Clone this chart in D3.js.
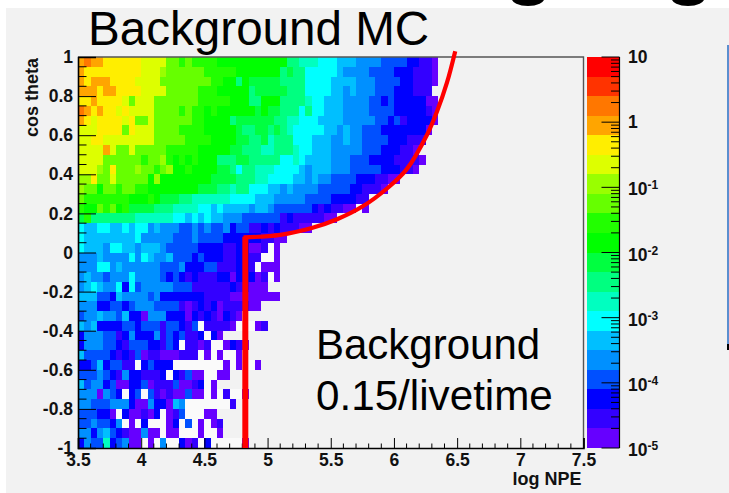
<!DOCTYPE html>
<html><head><meta charset="utf-8">
<style>html,body{margin:0;padding:0;background:#fff}svg{display:block}text{font-family:"Liberation Sans",Arial,sans-serif}</style>
<script src="https://cdn.jsdelivr.net/npm/d3@7"></script></head><body>
<div id="chart"></div>
<script>
// Bin colour level per cell, top row (cos theta = 1) first. Column 0 starts at log NPE 3.5.
// 0-9,a-j = colour band of the palette, '.' = empty bin.
const levelRows = [
"ghggffffffeeeeccbcbbbbaaaaaaaaaaa887776665554444333322110",
"gfffffffffeeedccccccbbbbbaaaaaaa8988666665444433332221110",
"gfgggffffeeeeccccccccbbaa8a999998888666655554443333221110",
"gggfggffffeeeecccccbbbaaaaa89999988866665545444333222111",
"ffgffffeceeecccccccbbbbbaaa88aaa8888766555444433232222200",
"hgfgffefeeeeccccbcbbabaaaaaa9a998886866555444433332222210",
"gfeffffefcceccccccbbaaaa899999988776665555444443323122220",
"eeeffffcfeeeccccbbbbaaaaa9889989876666655454433322222220",
"eeffeeeeeeeecccccbbbbaaaa998897888666555445443333222111",
"eeeegeccecccccbbbbbaaaaa998887788876655544444333222110",
"eeeeccccccbccdbababaaa888998888866765555444333222211110",
"eeedcfcccdccbcdaabaaaa99868877766665455544433333222110",
"ddfccecccccadaaaaaaaa999988877666655454433332221100",
"dccaccbccbbaaaaaaaa999887886665545444433333221110",
"cbbbbbbbaaaba999887777776666555444443333222211",
"baacbcab999988877776656555545543333332121100.0",
"9b888888877777766565655444333333121111100",
"6556655656645444334343342331121211100",
"655555555644444333433332222221100",
"655546655455543333322221122001.0",
"44454444646544533323222112211..0",
"4446645444444333422233111221.000",
"454434446444432321211122022201.0",
"456544626344444333111111211000",
"55533254444342222222111100000000",
"44422332344433331012120111100",
"34454435220444222021210210",
"5452222332333133213.11110...01",
"24443312422241323112.20",
"2444332133322132.1101..0210",
"5333321213011000111.0.0..0",
"223523311.23222........0.0..0",
"33343214221112.21300..00",
"53442300223011130012.0",
"4440432.23.310100300.0.1..0",
"44333444200422054.......1",
"333220.200102.013...00",
"3343324.0.2...02.3.0.01",
"4424532100400.00...0..0",
"2433723400.0.4..201.2.....0"
];

const palette = ["#6600ff","#3300ff","#0000ff","#0050ff","#0090ff","#00bfff","#00ffff","#00ffc0","#00ff80","#00ff40",
                 "#00ff00","#22ff00","#66ff00","#99ff00","#ddff00","#ffee00","#ffa500","#ff7700","#ff3300","#ff0000"];
const levelCodes = "0123456789abcdefghij";

const xTickValues = [3.5,4,4.5,5,5.5,6,6.5,7,7.5];
const yTickValues = [-1,-0.8,-0.6,-0.4,-0.2,0,0.2,0.4,0.6,0.8,1];
const colourDecades = [-5,-4,-3,-2,-1,0,1];

// Red selection boundary (log NPE, cos theta)
const boundaryVertical = [[4.824,-1],[4.824,0.08]];
const boundaryCurve = [[4.81,0.077],[5.1,0.09],[5.35,0.125],[5.55,0.17],[5.75,0.235],[5.95,0.33],[6.1,0.425],[6.26,0.6],[6.34,0.72],[6.42,0.87],[6.485,1.03]];

const W=729,H=493;
const svg=d3.select("#chart").append("svg").attr("width",W).attr("height",H);
svg.append("rect").attr("x",6).attr("y",8).attr("width",W-6).attr("height",H-8).attr("fill","#f2f2f2");

const left=78,right=583.5,top_=57,bottom=448;
const x=d3.scaleLinear().domain([3.5,7.5]).range([left,right]);
const y=d3.scaleLinear().domain([-1,1]).range([bottom,top_]);
const xBin=0.05,yBin=0.05;

const cbLeft=587,cbRight=619.5;
const cbScale=d3.scaleLog().domain([1e-5,10]).range([bottom,top_]);
const levelValue=i=>Math.pow(10,-5+0.3*(i+0.5));
const colour=d3.scaleQuantize().domain([-5,1]).range(palette);

// cells
const cells=[];
levelRows.forEach((row,r)=>{[...row].forEach((ch,c)=>{
  const l=levelCodes.indexOf(ch);
  cells.push({x0:3.5+c*xBin,y1:1-r*yBin,v:l>=0?levelValue(l):null});
});});
svg.append("g").attr("shape-rendering","crispEdges").selectAll("rect").data(cells).join("rect")
  .attr("x",d=>x(d.x0)).attr("y",d=>y(d.y1))
  .attr("width",d=>x(d.x0+xBin)-x(d.x0)).attr("height",d=>y(d.y1-yBin)-y(d.y1))
  .attr("fill",d=>d.v===null?"#fafafa":colour(Math.log10(d.v)));

// frame
svg.append("path").attr("d",`M${left},${top_}H${right}V${bottom}`).attr("fill","none").attr("stroke","#555").attr("stroke-width",1.4);

// axes
const bold=17.5;
const plain=d=>String(d);
const xAxis=d3.axisBottom(x).tickValues(xTickValues).tickSize(-10).tickPadding(5.5).tickFormat(plain);
const gx=svg.append("g").attr("transform",`translate(0,${bottom})`).call(xAxis);
const yAxis=d3.axisLeft(y).tickValues(yTickValues).tickSize(-18).tickPadding(5).tickFormat(plain);
const gy=svg.append("g").attr("transform",`translate(${left},0)`).call(yAxis);
[gx,gy].forEach(g=>{g.selectAll("text").attr("font-size",bold).attr("font-weight","bold").attr("fill","#111").style("font-family",'"Liberation Sans",Arial,sans-serif');
  g.selectAll("line").attr("stroke","#000");g.select(".domain").attr("stroke","#000").attr("stroke-width",1.6);});
// minor ticks
svg.append("g").selectAll("line").data(d3.range(0,41).map(i=>3.5+i*0.1).filter(v=>Math.abs((v-3.5)/0.5-Math.round((v-3.5)/0.5))>1e-6)).join("line")
  .attr("x1",d=>x(d)).attr("x2",d=>x(d)).attr("y1",bottom).attr("y2",bottom-4.5).attr("stroke","#000");
svg.append("g").selectAll("line").data(d3.range(0,41).map(i=>-1+i*0.05).filter(v=>Math.abs(v/0.2-Math.round(v/0.2))>1e-6)).join("line")
  .attr("x1",left).attr("x2",left+8.5).attr("y1",d=>y(d)).attr("y2",d=>y(d)).attr("stroke","#000");

// axis titles
svg.append("text").attr("x",581.5).attr("y",485).attr("text-anchor","end").attr("font-size",18).attr("font-weight","bold").attr("fill","#111").text("log NPE");
svg.append("text").attr("transform",`translate(38,97.5) rotate(-90)`).attr("text-anchor","middle").attr("font-size",18).attr("font-weight","bold").attr("fill","#111").text("cos theta");

// colour bar
svg.append("g").attr("shape-rendering","crispEdges").selectAll("rect").data(palette).join("rect")
  .attr("x",cbLeft).attr("width",cbRight-cbLeft)
  .attr("y",(d,i)=>cbScale(Math.pow(10,-5+0.3*(i+1))))
  .attr("height",(d,i)=>cbScale(Math.pow(10,-5+0.3*i))-cbScale(Math.pow(10,-5+0.3*(i+1))))
  .attr("fill",d=>d);
svg.append("line").attr("x1",cbRight).attr("x2",cbRight).attr("y1",top_).attr("y2",bottom).attr("stroke","#000").attr("stroke-width",1.2);
const minor=[];colourDecades.slice(0,-1).forEach(e=>{for(let m=2;m<=9;m++)minor.push(m*Math.pow(10,e));});
svg.append("g").selectAll("line").data(minor).join("line").attr("x1",cbRight).attr("x2",cbRight-8.5).attr("y1",d=>cbScale(d)).attr("y2",d=>cbScale(d)).attr("stroke","#000");
svg.append("g").selectAll("line").data(colourDecades).join("line").attr("x1",cbRight).attr("x2",cbRight-18).attr("y1",d=>cbScale(Math.pow(10,d))).attr("y2",d=>cbScale(Math.pow(10,d))).attr("stroke","#000");
const cbLab=svg.append("g").selectAll("text").data(colourDecades).join("text")
  .attr("x",628).attr("y",d=>cbScale(Math.pow(10,d))+(d<0?8:6)).attr("font-size",bold).attr("font-weight","bold").attr("fill","#111");
cbLab.each(function(d){const t=d3.select(this);
  if(d===0)t.text("1");else if(d===1)t.text("10");
  else{t.append("tspan").text("10");t.append("tspan").attr("font-size",12).attr("dy",-6).text(d);}
});

// boundary
svg.append("path").datum(boundaryVertical).attr("d",d3.line().x(d=>x(d[0])).y(d=>y(d[1]))).attr("fill","none").attr("stroke","#ff0000").attr("stroke-width",6);
svg.append("path").datum(boundaryCurve).attr("d",d3.line().x(d=>x(d[0])).y(d=>y(d[1])).curve(d3.curveCatmullRom)).attr("fill","none").attr("stroke","#ff0000").attr("stroke-width",4.2);

// annotations
svg.append("text").attr("x",88).attr("y",45).attr("font-size",47.6).attr("fill","#000").text("Background MC");
svg.append("text").attr("x",316).attr("y",359).attr("font-size",42).attr("fill","#000").text("Background");
svg.append("text").attr("x",316).attr("y",410).attr("font-size",42.2).attr("fill","#000").text("0.15/livetime");

// fragments of the cropped slide
svg.append("rect").attr("x",727).attr("y",45).attr("width",2).attr("height",299).attr("fill","#5b8fd0");
svg.append("rect").attr("x",727).attr("y",344).attr("width",2).attr("height",6).attr("fill","#000");
svg.selectAll("ellipse.g").data([528,688]).join("ellipse").attr("cx",d=>d).attr("cy",-2).attr("rx",16.5).attr("ry",8).attr("fill","#000");
</script></body></html>
